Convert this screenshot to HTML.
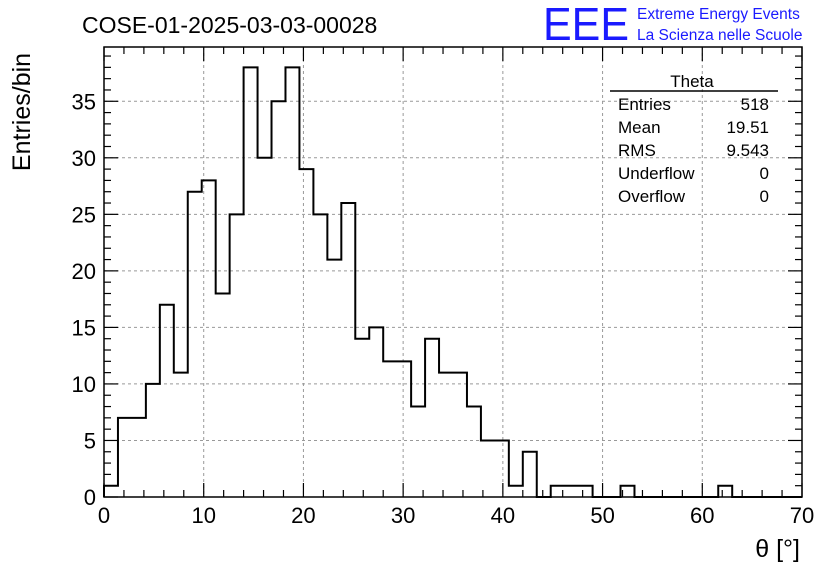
<!DOCTYPE html>
<html><head><meta charset="utf-8">
<style>
body{margin:0;background:#fff;}
svg{display:block;font-family:"Liberation Sans",sans-serif;}
</style></head>
<body>
<svg id="chart" width="836" height="572" xmlns="http://www.w3.org/2000/svg">
<rect width="836" height="572" fill="#fff"/>
<text x="82" y="33" font-size="23">COSE-01-2025-03-03-00028</text>
<text x="543" y="40" font-size="46" fill="#1a1aff" textLength="86" lengthAdjust="spacingAndGlyphs">EEE</text>
<text x="637" y="19" font-size="15.5" fill="#1a1aff">Extreme Energy Events</text>
<text x="637" y="40" font-size="15.5" fill="#1a1aff">La Scienza nelle Scuole</text>
<g id="grid"></g>
<g id="bars"></g>
<g id="axes"></g>
<text transform="translate(30,112) rotate(-90)" text-anchor="middle" font-size="25">Entries/bin</text>
<text x="800" y="557" text-anchor="end" font-size="25">θ [°]</text>
<g>
<text x="692" y="87" text-anchor="middle" font-size="17">Theta</text>
<line x1="610" y1="91" x2="778" y2="91" stroke="#000" stroke-width="1.5"/>
<text x="618" y="110" font-size="17">Entries</text><text x="769" y="110" text-anchor="end" font-size="17">518</text>
<text x="618" y="133" font-size="17">Mean</text><text x="769" y="133" text-anchor="end" font-size="17">19.51</text>
<text x="618" y="156" font-size="17">RMS</text><text x="769" y="156" text-anchor="end" font-size="17">9.543</text>
<text x="618" y="179" font-size="17">Underflow</text><text x="769" y="179" text-anchor="end" font-size="17">0</text>
<text x="618" y="202" font-size="17">Overflow</text><text x="769" y="202" text-anchor="end" font-size="17">0</text>
</g>
</svg>
<script>
const binCounts=[1,7,7,10,17,11,27,28,18,25,38,30,35,38,29,25,21,26,14,15,12,12,8,14,11,11,8,5,5,1,4,0,1,1,1,0,0,1,0,0,0,0,0,0,1,0,0,0,0,0];
const xMin=0, xMax=70, yMin=0, yMax=39.8;
const xTicks=[0,10,20,30,40,50,60,70];
const yTicks=[0,5,10,15,20,25,30,35];
const L=104,R=802,T=47,B=497;
const NS="http://www.w3.org/2000/svg";
function X(v){return L+(v-xMin)/(xMax-xMin)*(R-L);}
function Y(v){return B-(v-yMin)/(yMax-yMin)*(B-T);}
function mk(tag,attrs,parent){const e=document.createElementNS(NS,tag);for(const k in attrs)e.setAttribute(k,attrs[k]);parent.appendChild(e);return e;}
const grid=document.getElementById('grid'),axes=document.getElementById('axes'),bars=document.getElementById('bars');
xTicks.forEach(t=>{if(t>xMin&&t<xMax){const l=mk('line',{x1:X(t),x2:X(t),y1:T,y2:B,stroke:'#999','stroke-dasharray':'3,3','stroke-width':1},grid);

}});
yTicks.forEach(t=>{if(t>yMin){const l=mk('line',{x1:L,x2:R,y1:Y(t),y2:Y(t),stroke:'#999','stroke-dasharray':'3,3','stroke-width':1},grid);

}});
// histogram outline
const w=(xMax-xMin)/binCounts.length;
let d='M'+X(xMin)+','+Y(0);
binCounts.forEach((c,i)=>{d+=' L'+X(xMin+i*w)+','+Y(c)+' L'+X(xMin+(i+1)*w)+','+Y(c);});
d+=' L'+X(xMax)+','+Y(0);
const p=mk('path',{d:d,fill:'none',stroke:'#000','stroke-width':2},bars);


// frame
const f=mk('rect',{x:L,y:T,width:R-L,height:B-T,fill:'none',stroke:'#000','stroke-width':1.5},axes);


// x ticks
for(let v=xMin;v<=xMax+1e-9;v+=2){const major=(v%10===0);const len=major?14:7;
mk('line',{x1:X(v),x2:X(v),y1:B,y2:B-len,stroke:'#000','stroke-width':1.2},axes);
mk('line',{x1:X(v),x2:X(v),y1:T,y2:T+len,stroke:'#000','stroke-width':1.2},axes);}
xTicks.forEach(t=>{const tx=mk('text',{x:X(t),y:B+26,'text-anchor':'middle','font-size':22},axes);tx.textContent=t;

});
for(let v=0;v<=39;v+=1){const major=(v%5===0);const len=major?14:7;
mk('line',{x1:L,x2:L+len,y1:Y(v),y2:Y(v),stroke:'#000','stroke-width':1.2},axes);
mk('line',{x1:R,x2:R-len,y1:Y(v),y2:Y(v),stroke:'#000','stroke-width':1.2},axes);}
yTicks.forEach(t=>{const tx=mk('text',{x:L-8,y:Y(t)+8,'text-anchor':'end','font-size':22},axes);tx.textContent=t;

});
</script>
</body></html>
